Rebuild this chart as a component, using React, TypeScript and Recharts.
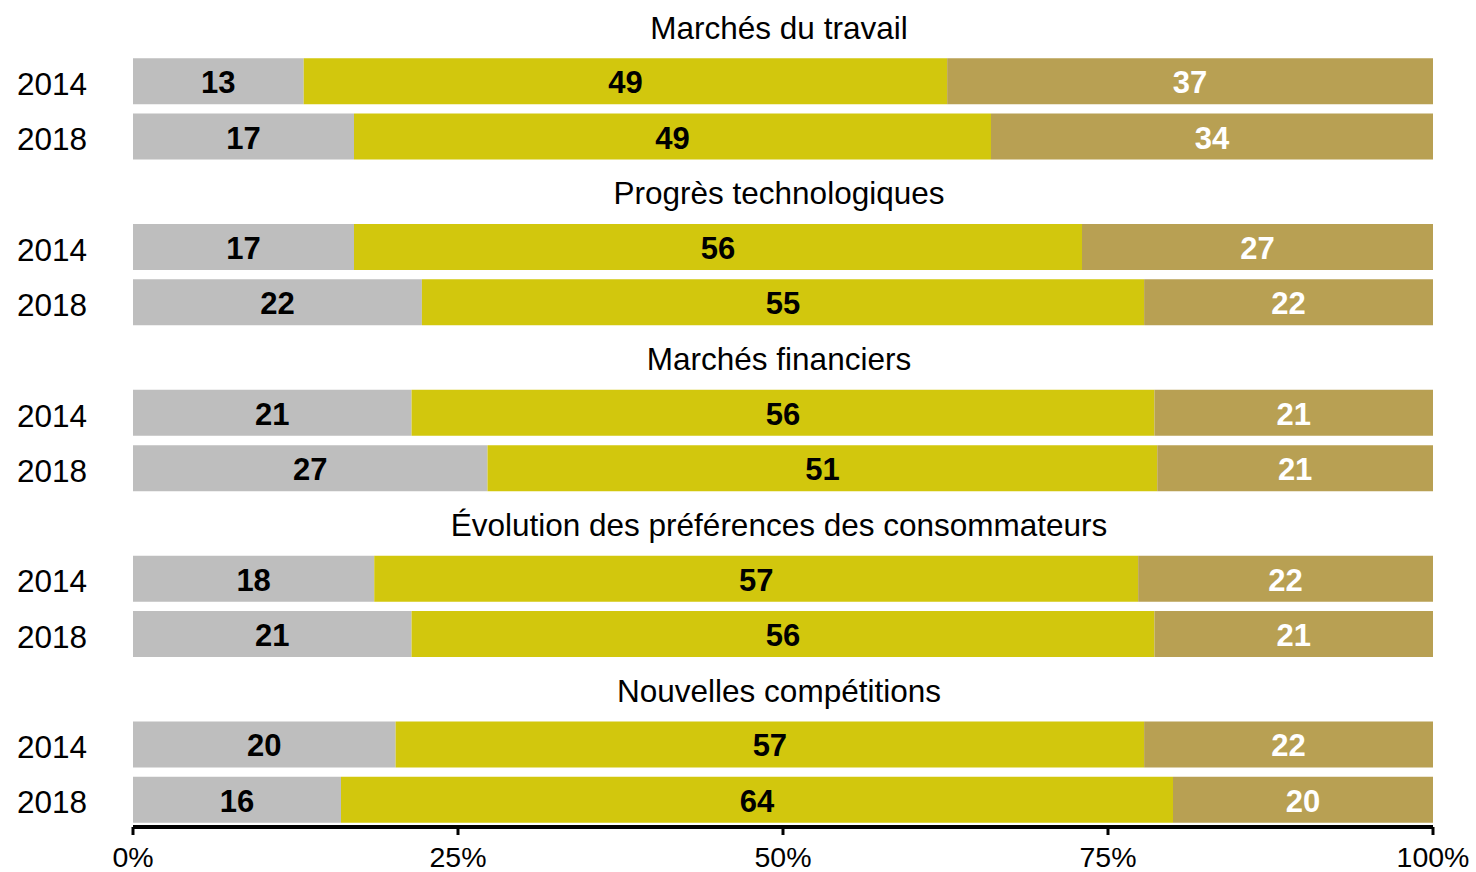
import React from "react";
import { BarChart, Bar, XAxis, YAxis, LabelList } from "recharts";

const groupTitles = [
  "Marchés du travail",
  "Progrès technologiques",
  "Marchés financiers",
  "Évolution des préférences des consommateurs",
  "Nouvelles compétitions",
];
const years = ["2014", "2018"];
// per group: [2014, 2018]
const greyValues = [13, 17, 17, 22, 21, 27, 18, 21, 20, 16];
const yellowValues = [49, 49, 56, 55, 56, 51, 57, 56, 57, 64];
const tanValues = [37, 34, 27, 22, 21, 21, 22, 21, 22, 20];
const xTicks = [0, 0.25, 0.5, 0.75, 1];

const W = 1476;
const H = 872;
const FONT = "'Liberation Sans', Arial, Helvetica, sans-serif";
const GREY = "#BEBEBE";
const YELLOW = "#D2C70D";
const TAN = "#B8A053";
const TITLE_X = 779;

type Row = {
  id: string;
  kind: "title" | "year";
  text: string;
  a: number | null;
  b: number | null;
  c: number | null;
};

const rows: Row[] = [];
groupTitles.forEach((t, g) => {
  rows.push({ id: `t${g}`, kind: "title", text: t, a: null, b: null, c: null });
  years.forEach((yr, k) => {
    const i = g * 2 + k;
    rows.push({
      id: `r${g}-${yr}`,
      kind: "year",
      text: yr,
      a: greyValues[i],
      b: yellowValues[i],
      c: tanValues[i],
    });
  });
});
const rowById: Record<string, Row> = {};
rows.forEach((r) => (rowById[r.id] = r));

const renderYTick = (props: any) => {
  const { y, payload } = props;
  const row = rowById[payload.value];
  if (!row) return <g />;
  if (row.kind === "title") {
    return (
      <text
        x={TITLE_X}
        y={y + 13}
        textAnchor="middle"
        fontFamily={FONT}
        fontSize={31.5}
        fill="#000"
      >
        {row.text}
      </text>
    );
  }
  return (
    <text
      x={87}
      y={y + 14}
      textAnchor="end"
      fontFamily={FONT}
      fontSize={31.5}
      fill="#000"
    >
      {row.text}
    </text>
  );
};

const makeLabel = (color: string) => (props: any) => {
  const { x, y, width, height, value } = props;
  if (value === null || value === undefined || !width) return null;
  return (
    <text
      x={x + width / 2}
      y={y + height / 2 + 12}
      textAnchor="middle"
      fontFamily={FONT}
      fontWeight="bold"
      fontSize={31}
      fill={color}
    >
      {value}
    </text>
  );
};

export default function App() {
  return (
    <div
      style={{
        position: "absolute",
        left: 0,
        top: 0,
        width: W,
        height: H,
        background: "#fff",
      }}
    >
      <BarChart
        width={W}
        height={H}
        data={rows}
        layout="vertical"
        stackOffset="expand"
        margin={{ top: -2, right: 43, bottom: 0, left: 0 }}
        barSize={46}
      >
        <XAxis
          type="number"
          domain={[0, 1]}
          ticks={xTicks}
          interval={0}
          height={45}
          tickFormatter={(v: number) => `${Math.round(v * 100)}%`}
          axisLine={{ stroke: "#000", strokeWidth: 4 }}
          tickLine={{ stroke: "#000", strokeWidth: 3 }}
          tickSize={8}
          tickMargin={12}
          tick={{ fill: "#000", fontSize: 28.5, fontFamily: FONT }}
        />
        <YAxis
          type="category"
          dataKey="id"
          width={133}
          interval={0}
          axisLine={false}
          tickLine={false}
          tick={renderYTick}
        />
        <Bar dataKey="a" stackId="s" fill={GREY} isAnimationActive={false}>
          <LabelList dataKey="a" content={makeLabel("#000")} />
        </Bar>
        <Bar dataKey="b" stackId="s" fill={YELLOW} isAnimationActive={false}>
          <LabelList dataKey="b" content={makeLabel("#000")} />
        </Bar>
        <Bar dataKey="c" stackId="s" fill={TAN} isAnimationActive={false}>
          <LabelList dataKey="c" content={makeLabel("#fff")} />
        </Bar>
      </BarChart>
    </div>
  );
}
